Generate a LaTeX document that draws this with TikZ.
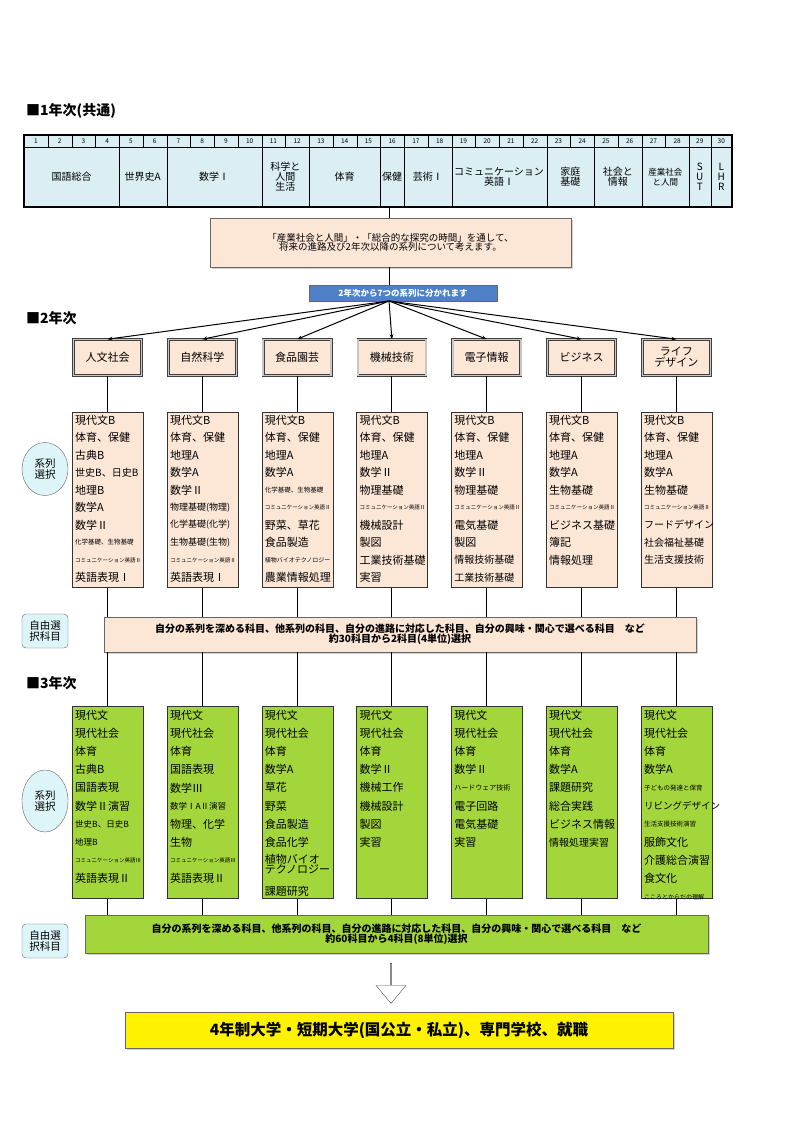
\documentclass[tikz,border=0pt]{standalone}
\usepackage{fontspec}
\setmainfont{Noto Sans CJK JP}
\usetikzlibrary{shadows,arrows.meta,shapes.geometric,shapes.arrows}
\definecolor{peach}{HTML}{FCE6D6}
\definecolor{tcyan}{HTML}{DAEEF3}
\definecolor{lgreen}{HTML}{A3D63A}
\definecolor{bluebox}{HTML}{4F81C8}
\definecolor{lcyan}{HTML}{DDF5F8}
\newcommand\sz[1]{\fontsize{#1}{#1}\selectfont}
\tikzset{
 conn/.style={line width=1pt,black},
 item/.style={anchor=west,inner sep=0pt,font=\sz{11}},
 shad/.style={drop shadow={shadow xshift=2pt,shadow yshift=-2pt,fill=gray!70}},
 serbox/.style={draw=black!75,line width=0.6pt,double=gray!45,double distance=1.6pt,fill=peach,minimum width=68pt,minimum height=36pt,align=center,font=\sz{11},inner sep=0pt},
 subbox/.style={draw=black!80,line width=0.8pt,anchor=north west,minimum width=71pt,inner sep=0pt},
 tcell/.style={draw=black,line width=0.5pt,fill=tcyan,anchor=north west,inner sep=0pt},
 lab/.style={font=\sz{10},align=center,inner sep=0pt},
 sidelab/.style={draw=black!60,fill=lcyan,align=center,font=\sz{10.5},inner sep=1pt},
 title/.style={anchor=west,font=\bfseries\sz{14},inner sep=0pt},
}
\newcommand\colitems[5]{\foreach \t [count=\i from 0] in {#5} {\node[item] (#1-\i) at (#2+3,#3+\i*#4) {\t};}}
\begin{document}
\begin{tikzpicture}[x=1pt,y=-1pt]
\useasboundingbox[fill=white] (0,0) rectangle (800,1133);
% ---- year 1
\node[title] (t1) at (26,111) {■1年次(共通)};
\def\edges{24,47.75,71.5,95.25,119,142.75,166.5,190.25,214,237.75,261.5,285.25,309,332.75,356.5,380.25,404,427.75,451.5,475.25,499,522.75,546.5,570.25,594,617.75,641.5,665.25,689,710.5,732}
\foreach \k in {1,...,30}{
  \pgfmathsetmacro\xa{{\edges}[\k-1]}\pgfmathsetmacro\xb{{\edges}[\k]}
  \node[tcell,minimum width=\xb-\xa,minimum height=12pt] (h\k) at (\xa,135) {};
  \node[font=\sz{6.5},inner sep=0pt] (hn\k) at ({(\xa+\xb)/2},141) {\k};
}
\foreach \a/\b/\txt [count=\j] in {24/119/国語総合,119/166.5/世界史A,166.5/261.5/数学Ⅰ,261.5/309/科学と\\人間\\生活,309/380.25/体育,380.25/404/保健,404/451.5/芸術Ⅰ,451.5/546.5/コミュニケーション\\英語Ⅰ,546.5/594/家庭\\基礎,594/641.5/社会と\\情報,641.5/689/{\sz{8.5}産業社会\\\sz{8.5}と人間},689/710.5/S\\U\\T,710.5/732/L\\H\\R}{
  \node[tcell,minimum width=\b-\a,minimum height=60pt] (g\j) at (\a,147) {};
  \node[lab] (gl\j) at ({(\a+\b)/2},177) {\txt};
}
\draw[line width=2pt] (24,135) rectangle (732,207);
\node[draw=black!60,fill=peach,shad,minimum width=361pt,minimum height=49pt,align=center,font=\sz{9.5},inner sep=0pt] (think) at (390.5,242.5) {「産業社会と人間」・「総合的な探究の時間」を通して、\\将来の進路及び2年次以降の系列について考えます。};
\node[draw=black!60,fill=bluebox,minimum width=188pt,minimum height=16pt,font=\bfseries\sz{8.5},text=white,inner sep=0pt] (split) at (403,293) {2年次から7つの系列に分かれます};
\coordinate (top) at (389,207);
\coordinate (o) at (389,301);
\draw[conn] (top) -- (top |- think.north);
\draw[conn] (think.south -| top) -- (split.north -| top);
% ---- year 2
\node[title] (t2) at (26,318) {■2年次};
\foreach \n/\txt [count=\j from 0] in {s1/人文社会,s2/自然科学,s3/食品園芸,s4/機械技術,s5/電子情報,s6/ビジネス,s7/ライフ\\デザイン}{
  \node[serbox] (\n) at (107.5+94.8*\j,357.5) {\txt};
  \draw[conn,-{Stealth[length=5pt]}] (o) -- (\n.north);
}
\foreach \n [count=\j from 0] in {b1,b2,b3,b4,b5,b6,b7}{
  \node[subbox,fill=peach,minimum height=175pt] (\n) at (72+94.8*\j,412) {};
  \node[subbox,fill=lgreen,minimum height=192pt] (c\n) at (72+94.8*\j,706) {};
}
\colitems{a1}{72}{420}{17.5}{現代文B,体育、保健,古典B,{\sz{10}世史B、日史B},地理B,数学A,数学Ⅱ,{\sz{6.5}化学基礎、生物基礎},{\sz{5.5}コミュニケーション英語Ⅱ},英語表現Ⅰ}
\colitems{a2}{166.8}{420}{17.5}{現代文B,体育、保健,地理A,数学A,数学Ⅱ,{\sz{9}物理基礎(物理)},{\sz{9}化学基礎(化学)},{\sz{9}生物基礎(生物)},{\sz{5.5}コミュニケーション英語Ⅱ},英語表現Ⅰ}
\colitems{a3}{261.6}{420}{17.5}{現代文B,体育、保健,地理A,数学A,{\sz{6.5}化学基礎、生物基礎},{\sz{5.5}コミュニケーション英語Ⅱ},野菜、草花,食品製造,{\sz{6}植物バイオテクノロジー},農業情報処理}
\colitems{a4}{356.4}{420}{17.5}{現代文B,体育、保健,地理A,数学Ⅱ,物理基礎,{\sz{5.5}コミュニケーション英語Ⅱ},機械設計,製図,工業技術基礎,実習}
\colitems{a5}{451.2}{420}{17.5}{現代文B,体育、保健,地理A,数学Ⅱ,物理基礎,{\sz{5.5}コミュニケーション英語Ⅱ},電気基礎,製図,{\sz{10}情報技術基礎},{\sz{10}工業技術基礎}}
\colitems{a6}{546}{420}{17.5}{現代文B,体育、保健,地理A,数学A,生物基礎,{\sz{5.5}コミュニケーション英語Ⅱ},ビジネス基礎,簿記,情報処理}
\colitems{a7}{640.8}{420}{17.5}{現代文B,体育、保健,地理A,数学A,生物基礎,{\sz{5.5}コミュニケーション英語Ⅱ},{\sz{10}フードデザイン},{\sz{10}社会福祉基礎},{\sz{10}生活支援技術}}
\node[draw=black!60,fill=peach,shad,minimum width=592pt,minimum height=35pt,align=center,font=\bfseries\sz{10},inner sep=0pt] (free2) at (400,634.5) {自分の系列を深める科目、他系列の科目、自分の進路に対応した科目、自分の興味・関心で選べる科目\quad など\\約30科目から2科目(4単位)選択};
\node[sidelab,ellipse,minimum width=46pt,minimum height=53pt] (e2) at (45,469) {系列\\選択};
\node[sidelab,rounded corners=4pt,minimum width=46pt,minimum height=34pt] (f2) at (45,631) {自由選\\択科目};
% ---- year 3
\node[title] (t3) at (26,683) {■3年次};
\colitems{d1}{72}{715}{18.2}{現代文,現代社会,体育,古典B,国語表現,数学Ⅱ演習,{\sz{8.5}世史B、日史B},{\sz{8.5}地理B},{\sz{5.5}コミュニケーション英語Ⅲ},英語表現Ⅱ}
\colitems{d2}{166.8}{715}{18.2}{現代文,現代社会,体育,国語表現,数学Ⅲ,{\sz{8.5}数学ⅠAⅡ演習},物理、化学,生物,{\sz{5.5}コミュニケーション英語Ⅲ},英語表現Ⅱ}
\colitems{d3}{261.6}{715}{18.2}{現代文,現代社会,体育,数学A,草花,野菜,食品製造,食品化学}
\node[item,align=left,font=\sz{11},text depth=0pt] (d3-8) at (264.6,864) {植物バイオ\\[-1pt]テクノロジー};
\node[item] (d3-9) at (264.6,891) {課題研究};
\colitems{d4}{356.4}{715}{18.2}{現代文,現代社会,体育,数学Ⅱ,機械工作,機械設計,製図,実習}
\colitems{d5}{451.2}{715}{18.2}{現代文,現代社会,体育,数学Ⅱ,{\sz{7}ハードウェア技術},電子回路,電気基礎,実習}
\colitems{d6}{546}{715}{18.2}{現代文,現代社会,体育,数学A,課題研究,総合実践,ビジネス情報,{\sz{10}情報処理実習}}
\colitems{d7}{640.8}{715}{18.2}{現代文,現代社会,体育,数学A,{\sz{6.5}子どもの発達と保育},{\sz{9.5}リビングデザイン},{\sz{6.5}生活支援技術演習},服飾文化,介護総合演習,食文化,{\sz{6}こころとからだの理解}}
\node[draw=black!60,fill=lgreen,shad,minimum width=623pt,minimum height=38pt,align=center,font=\bfseries\sz{10},inner sep=0pt] (free3) at (396.5,934) {自分の系列を深める科目、他系列の科目、自分の進路に対応した科目、自分の興味・関心で選べる科目\quad など\\約60科目から4科目(8単位)選択};
\node[sidelab,ellipse,minimum width=46pt,minimum height=62pt] (e3) at (45,801) {系列\\選択};
\node[sidelab,rounded corners=4pt,minimum width=46pt,minimum height=34pt] (f3) at (45,941) {自由選\\択科目};
% connectors
\foreach \j in {1,...,7}{
  \draw[conn] (s\j.south) -- (b\j.north -| s\j.south);
  \draw[conn] (b\j.south -| s\j.south) -- (free2.north -| s\j.south);
  \draw[conn] (free2.south -| s\j.south) -- (cb\j.north -| s\j.south);
  \draw[conn] (cb\j.south -| s\j.south) -- (free3.north -| s\j.south);
}
% ---- end
\node[draw=black!70,fill=white,single arrow,shape border rotate=270,single arrow head extend=5pt,minimum width=30pt,minimum height=40pt,inner sep=0pt,single arrow tip angle=80] (arr) at (391,983) {};
\node[draw=black!60,fill=yellow,shad,minimum width=548pt,minimum height=36pt,font=\bfseries\sz{15.5},inner sep=0pt] (goal) at (399,1030) {4年制大学・短期大学(国公立・私立)、専門学校、就職};
\end{tikzpicture}
\end{document}
